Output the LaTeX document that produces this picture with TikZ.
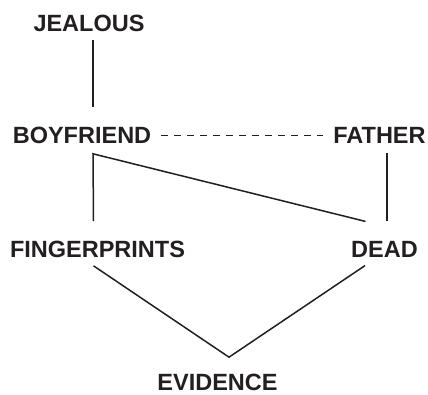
\documentclass[tikz,border=0pt]{standalone}
\usepackage{fontspec}
\setmainfont{Liberation Sans}
\definecolor{ink}{HTML}{231F20}
\begin{document}
\begin{tikzpicture}[x=1pt,y=-1pt,
  term/.style={font=\bfseries\fontsize{23.5}{26}\selectfont, text=ink, inner sep=0pt, outer sep=0pt},
  link/.style={draw=ink, line width=1.5pt},
  assoc/.style={link, dash pattern=on 7pt off 6pt}]
\useasboundingbox (0,0) rectangle (428,395);

% concepts
\node[term] (jealous)  at (89,23.5)    {JEALOUS};
\node[term] (boyfriend) at (82,135.5)  {BOYFRIEND};
\node[term] (father)   at (379.5,135.5) {FATHER};
\node[term] (prints)   at (97.5,249.5) {FINGERPRINTS};
\node[term] (dead)     at (384.5,249.5) {DEAD};
\node[term] (evidence) at (217.5,382.5) {EVIDENCE};

% links between concepts
\draw[link] ([shift={(4,8)}]jealous.south) -- ([shift={(11,-20)}]boyfriend.north);
\draw[assoc] ([shift={(10,0)}]boyfriend.east) -- ([shift={(-10,0)}]father.west);
\draw[link] ([shift={(-4,-20)}]prints.north) -- ([shift={(11,10)}]boyfriend.south)
            -- ([shift={(-19,-20)}]dead.north);
\draw[link] ([shift={(7.5,9)}]father.south) -- ([shift={(2.5,-20)}]dead.north);
\draw[link] ([shift={(-4,8)}]prints.south) -- ([shift={(11.5,-17)}]evidence.north)
            -- ([shift={(-19.5,8)}]dead.south);
\end{tikzpicture}
\end{document}
